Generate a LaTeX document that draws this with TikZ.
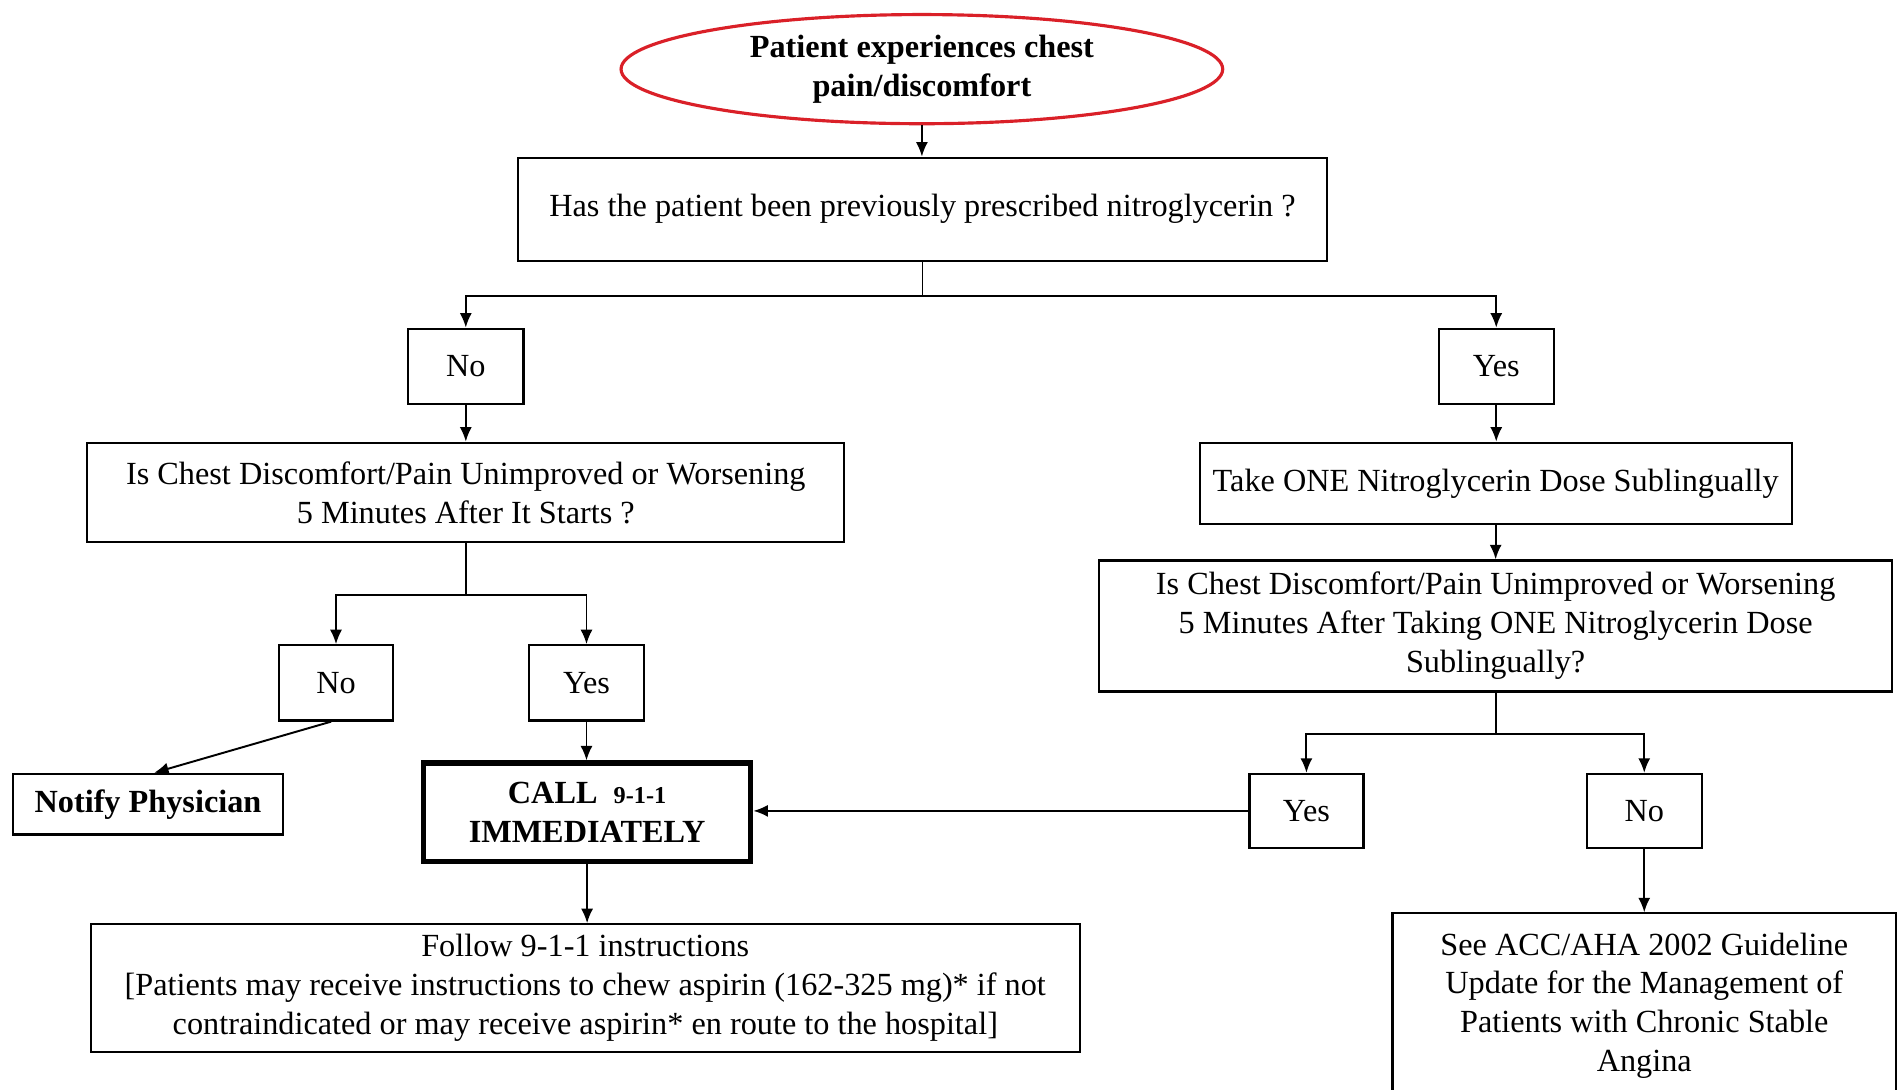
\documentclass[tikz,border=0pt]{standalone}
\usepackage{fontspec}
\setmainfont{Liberation Serif}
\usetikzlibrary{shapes.geometric,arrows.meta,calc}
\definecolor{ovalred}{RGB}{218,32,40}
\begin{document}
\begin{tikzpicture}[x=0.5pt,y=-0.5pt,
  txt/.style={font=\fontsize{13.3}{16}\selectfont},
  box/.style={draw=black,line width=0.9pt,rectangle,inner sep=0pt,align=center,txt},
  conn/.style={line width=0.8pt,-{Latex[length=6pt,width=5pt]}},
  plain/.style={line width=0.8pt},
]
\useasboundingbox (0,0) rectangle (1568,898);
\fill[white] (0,0) rectangle (1568,898);
\clip (0,0) rectangle (1568,898);

% start oval
\node[ellipse,draw=ovalred,line width=1.3pt,minimum width=248pt,minimum height=45pt,
      inner sep=0pt,align=center,font=\fontsize{13.3}{16}\selectfont\bfseries]
  (start) at (760,57) {Patient experiences chest\\pain/discomfort};

% first question
\node[box,minimum width=333.5pt,minimum height=42.5pt] (q1) at (760.5,172.5)
  {Has the patient been previously prescribed nitroglycerin ?};
\node[box,minimum width=47.5pt,minimum height=31pt] (no1) at (384,302) {No};
\node[box,minimum width=47.5pt,minimum height=31pt] (yes1) at (1233.5,302) {Yes};

% left branch
\node[box,minimum width=312pt,minimum height=41pt] (q2) at (384,406)
  {Is Chest Discomfort/Pain Unimproved or Worsening\\5 Minutes After It Starts ?};
\node[box,minimum width=47pt,minimum height=31pt] (no2) at (277,563) {No};
\node[box,minimum width=47.5pt,minimum height=31pt] (yes2) at (483.5,563) {Yes};
\node[box,minimum width=111pt,minimum height=25pt,font=\fontsize{13.3}{16}\selectfont\bfseries]
  (notify) at (122,663) {Notify Physician};
\node[box,line width=2.1pt,minimum width=135pt,minimum height=40.5pt,font=\fontsize{13.3}{16}\selectfont\bfseries]
  (call) at (484,669.5) {CALL\ \ {\fontsize{10}{16}\selectfont 9-1-1}\\IMMEDIATELY};
\node[box,minimum width=407.5pt,minimum height=52.5pt] (follow) at (482.5,814.5)
  {Follow 9-1-1 instructions\\
   {}[Patients may receive instructions to chew aspirin (162-325 mg)* if not\\
   contraindicated or may receive aspirin* en route to the hospital]};

% right branch
\node[box,minimum width=244pt,minimum height=33.5pt] (take) at (1233,398.5)
  {Take ONE Nitroglycerin Dose Sublingually};
\node[box,minimum width=327pt,minimum height=54pt] (q3) at (1233,516)
  {Is Chest Discomfort/Pain Unimproved or Worsening\\
   5 Minutes After Taking ONE Nitroglycerin Dose\\Sublingually?};
\node[box,minimum width=47pt,minimum height=30.5pt] (yes3) at (1077,668.5) {Yes};
\node[box,minimum width=47.5pt,minimum height=30.5pt] (no3) at (1355.5,668.5) {No};
\node[box,minimum width=207.5pt,minimum height=76pt] (see) at (1355.5,829)
  {See ACC/AHA 2002 Guideline\\Update for the Management of\\Patients with Chronic Stable\\Angina};

% connectors
\draw[conn] (start.south) -- (start.south |- q1.north);

\coordinate (b1) at ($(q1.south)+(0,28)$);
\draw[plain] (q1.south) -- (b1);
\draw[conn] (b1) -| (no1.north);
\draw[conn] (b1) -| (yes1.north);

\draw[conn] (no1.south) -- (no1.south |- q2.north);
\coordinate (b2) at ($(q2.south)+(0,43)$);
\draw[plain] (q2.south) -- (b2);
\draw[conn] (b2) -| (no2.north);
\draw[conn] (b2) -| (yes2.north);

\draw[conn] ([xshift=-2pt]no2.south) -- ([xshift=2.5pt]notify.north);
\draw[conn] (yes2.south) -- (yes2.south |- call.north);
\draw[conn] (call.south) -- (call.south |- follow.north);

\draw[conn] (yes1.south) -- (yes1.south |- take.north);
\draw[conn] (take.south) -- (take.south |- q3.north);
\coordinate (b3) at ($(q3.south)+(0,34)$);
\draw[plain] (q3.south) -- (b3);
\draw[conn] (b3) -| (yes3.north);
\draw[conn] (b3) -| (no3.north);

\draw[conn] (yes3.west) -- (yes3.west -| call.east);
\draw[conn] (no3.south) -- (no3.south |- see.north);
\end{tikzpicture}
\end{document}
